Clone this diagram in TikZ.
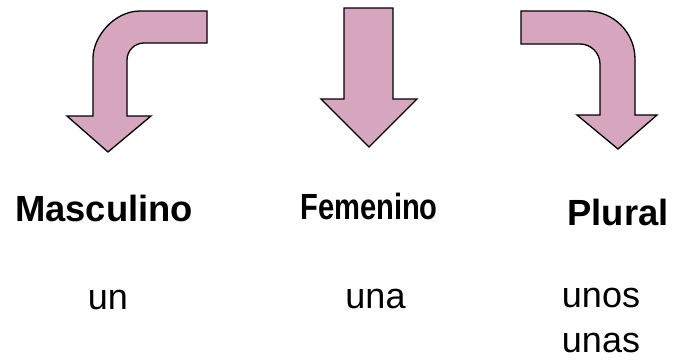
\documentclass[tikz,border=0pt]{standalone}
\usepackage{fontspec}
\setmainfont{Liberation Sans}
\usepackage{xcolor}
\definecolor{arrow-pink}{HTML}{D5A6BD}

\begin{document}
\begin{tikzpicture}[x=1pt, y=-1pt,
      bigarrow/.style={draw=black, fill=arrow-pink, line width=1.3pt, line join=miter},
      gender/.style={inner sep=0pt, anchor=base, font=\fontsize{36.4}{40}\selectfont\bfseries},
      article/.style={inner sep=0pt, anchor=base, font=\fontsize{36}{40}\selectfont}]
    \useasboundingbox (0,0) rectangle (674,359);
    % bent arrow to the left
    \draw[bigarrow] (108,152) -- (151,116) -- (127,116) -- (127,60)
        .. controls (127,50.6) and (134.6,43) .. (144,43) -- (207,43) -- (207,11)
        -- (140,11) .. controls (114,11) and (93,37) .. (93,58)
        -- (93,116) -- (67,116) -- cycle;
    % straight arrow
    \draw[bigarrow] (369,147) -- (417,99) -- (393,99) -- (393,8)
        -- (344,8) -- (344,99) -- (321,99) -- cycle;
    % bent arrow to the right
    \draw[bigarrow] (618,149) -- (577,115) -- (600,115) -- (600,64)
        .. controls (600,53) and (591,44) .. (580,44) -- (521,44) -- (521,11)
        -- (587,11) .. controls (613.5,11) and (635,32.5) .. (635,59)
        -- (635,115) -- (657,115) -- cycle;
    \node[gender] (masc) at (104,221) {Masculino};
    \node[gender] (fem) at (369,219) {\scalebox{0.8}[1]{Femenino}};
    \node[gender] (plural) at (618,225) {Plural};
    \node[article] (un) at (108,309) {un};
    \node[article] (una) at (375.5,308) {una};
    \node[article] (unos) at (601,307) {unos};
    \node[article] (unas) at ([yshift=-45pt]unos.base) {unas};
  \end{tikzpicture}
\end{document}
